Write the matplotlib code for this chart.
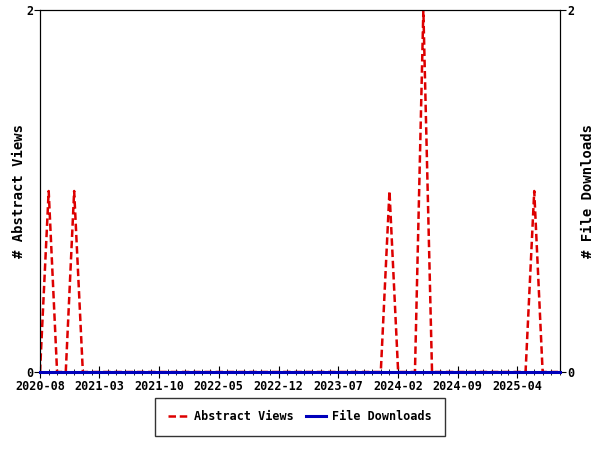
import matplotlib
matplotlib.use("Agg")
import matplotlib.pyplot as plt
import matplotlib.dates as mdates
import pandas as pd

months = pd.date_range("2020-08-01", "2025-09-01", freq="MS")
abstract_views = [0] * len(months)
peaks = {"2020-09": 1, "2020-12": 1, "2024-01": 1, "2024-05": 2, "2025-06": 1}
month_labels = [m.strftime("%Y-%m") for m in months]
for k, v in peaks.items():
    abstract_views[month_labels.index(k)] = v
file_downloads = [0] * len(months)
tick_labels = ["2020-08", "2021-03", "2021-10", "2022-05", "2022-12",
               "2023-07", "2024-02", "2024-09", "2025-04"]

plt.rcParams['font.family'] = ['DejaVu Sans Mono']
plt.rcParams['font.weight'] = 'bold'
plt.rcParams['axes.labelweight'] = 'bold'

fig = plt.figure(figsize=(6, 4.5), dpi=100)
ax = fig.add_axes([40/600, 1-372/450, 520/600, 362/450])
ax2 = ax.twinx()

l1, = ax.plot(months, abstract_views, color="#dd0000", linestyle=(0, (3, 1.5)), lw=1.8,
              label="Abstract Views", zorder=3)
l2, = ax2.plot(months, file_downloads, color="#0000bb", lw=2.2, label="File Downloads",
               zorder=5, clip_on=False)

ax.set_xlim(months[0], months[-1])
ax.set_ylim(0, 2)
ax2.set_ylim(0, 2)
ax.set_yticks([0, 2])
ax2.set_yticks([0, 2])
ticks = [pd.Timestamp(t + "-01") for t in tick_labels]
ax.set_xticks(ticks)
ax.set_xticklabels(tick_labels)
ax.xaxis.set_minor_locator(mdates.MonthLocator())
ax.tick_params(axis='x', which='major', direction='inout', length=8, labelsize=8.5, pad=2)
ax.tick_params(axis='x', which='minor', direction='inout', length=5)
ax.tick_params(axis='y', direction='out', length=4, labelsize=8.5, pad=1)
ax2.tick_params(axis='y', direction='out', length=4, labelsize=8.5, pad=1)
ax.set_ylabel("# Abstract Views", fontsize=10)
ax2.set_ylabel("# File Downloads", fontsize=10)
ax.yaxis.set_label_coords(-14/520, 0.5)
ax2.yaxis.set_label_coords(1 + 21/520, 0.5)

leg = fig.legend(handles=[l1, l2], loc="center", bbox_to_anchor=(300/600, 1-417/450),
                 ncol=2, fontsize=8.5, frameon=True, fancybox=False, edgecolor="black",
                 handlelength=1.7, handletextpad=0.5, borderpad=1.1, columnspacing=1.0)
leg.get_frame().set_linewidth(1)

fig.savefig("out.png", dpi=100)
